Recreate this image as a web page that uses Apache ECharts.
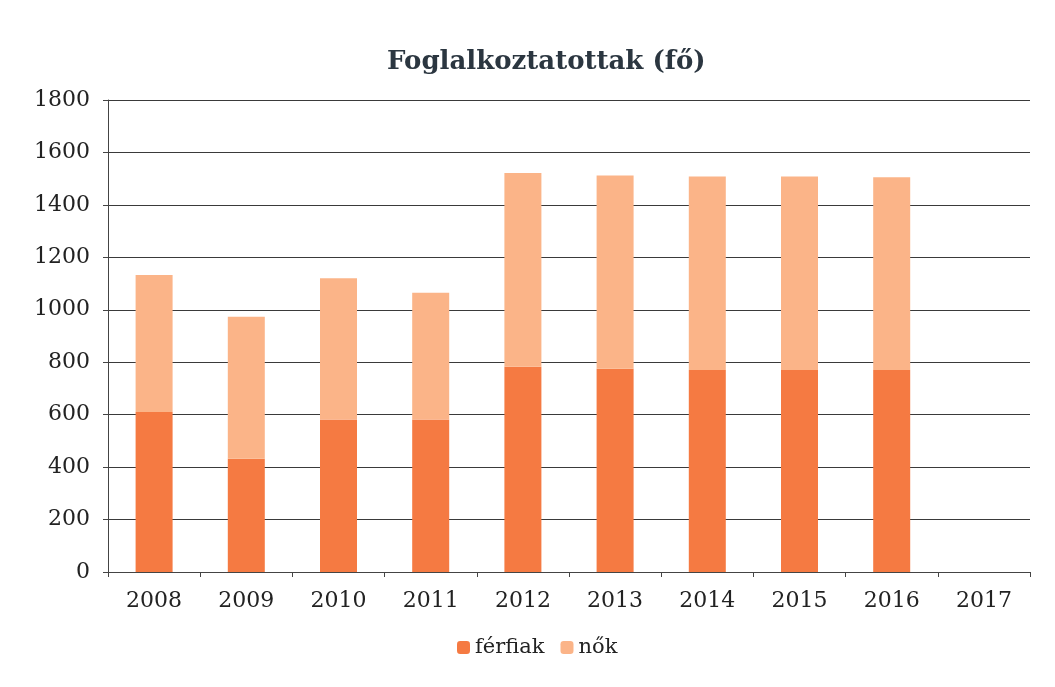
<!DOCTYPE html>
<html>
<head>
<meta charset="utf-8">
<script src="https://cdn.jsdelivr.net/npm/echarts@6/dist/echarts.min.js"></script>
<style>
html,body{margin:0;padding:0;background:#fff;}
#chart{width:1055px;height:687px;}
</style>
</head>
<body>
<div id="chart"></div>
<script>
var categories = ['2008','2009','2010','2011','2012','2013','2014','2015','2016','2017'];
var ferfiak = [610, 432, 582, 582, 783, 775, 770, 770, 770, null];
var nokTotal = [1133, 973, 1120, 1065, 1522, 1512, 1508, 1508, 1505, null];
var nok = nokTotal.map(function(t, i){ return t == null ? null : t - ferfiak[i]; });
var yTicks = [0, 200, 400, 600, 800, 1000, 1200, 1400, 1600, 1800];

var chart = echarts.init(document.getElementById('chart'));
chart.setOption({
  animation: false,
  backgroundColor: '#ffffff',
  title: {
    text: 'Foglalkoztatottak (fő)',
    left: 382,
    top: 44,
    textStyle: { fontFamily: 'DejaVu Serif', fontWeight: 'bold', fontSize: 26, color: '#2b3640' }
  },
  legend: {
    bottom: 24,
    left: 452,
    itemWidth: 13,
    itemHeight: 13,
    itemGap: 16,
    textStyle: { fontFamily: 'DejaVu Serif', fontSize: 21, color: '#222' },
    data: ['férfiak', 'nők']
  },
  grid: { left: 108, right: 25, top: 100, bottom: 115 },
  xAxis: {
    type: 'category',
    data: categories,
    axisLine: { lineStyle: { color: '#444', width: 1 } },
    axisTick: { show: true, alignWithLabel: false, length: 5, lineStyle: { color: '#444' } },
    axisLabel: { fontFamily: 'DejaVu Serif', fontSize: 22, color: '#222', margin: 18 }
  },
  yAxis: {
    type: 'value',
    min: 0,
    max: 1800,
    interval: 200,
    axisLine: { show: true, lineStyle: { color: '#444', width: 1 } },
    axisTick: { show: true, length: 5, lineStyle: { color: '#444' } },
    axisLabel: {
      fontFamily: 'DejaVu Serif', fontSize: 22, color: '#222', margin: 18,
      formatter: function (v) { return yTicks.indexOf(v) >= 0 ? String(v) : ''; }
    },
    splitLine: { lineStyle: { color: '#3a3a3a', width: 1 } }
  },
  series: [
    {
      name: 'férfiak',
      type: 'bar',
      stack: 'total',
      barWidth: 37,
      data: ferfiak,
      itemStyle: { color: '#F57A42' }
    },
    {
      name: 'nők',
      type: 'bar',
      stack: 'total',
      barWidth: 37,
      data: nok,
      itemStyle: { color: '#FBB488' }
    }
  ]
});
</script>
</body>
</html>
